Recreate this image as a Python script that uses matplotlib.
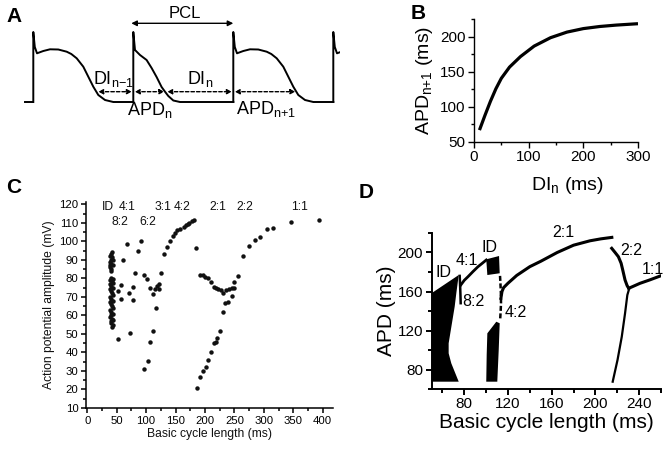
import numpy as np
import matplotlib
matplotlib.use('Agg')
import matplotlib.pyplot as plt
from matplotlib.ticker import MultipleLocator

plt.rcParams['font.family'] = ['Liberation Sans', 'DejaVu Sans']
plt.rcParams['mathtext.fontset'] = 'custom'
plt.rcParams['mathtext.rm'] = 'Liberation Sans'
plt.rcParams['mathtext.it'] = 'Liberation Sans:italic'
plt.rcParams['mathtext.bf'] = 'Liberation Sans:bold'

# ---------------- data ----------------
# Panel A: schematic action potentials (time from upstroke, voltage above rest)
ap_long_t = [0, 0, 1.5, 3.7, 10, 16.7, 25, 33.4, 38, 43.4, 50, 55, 60, 65, 71.7, 80, 100]
ap_long_v = [0, 70, 55, 48.7, 51, 52.7, 52.5, 50.3, 48, 43.7, 35.3, 25.3, 15.3, 7, 2, 0, 0]
ap_short_t = [0, 0, 1.7, 6.7, 13.3, 18.3, 23.3, 28.3, 31.7, 35, 40, 46.7, 100]
ap_short_v = [0, 70, 52, 47, 42, 34, 25, 15, 10.3, 6, 1.5, 0, 0]
beat_onsets = [33.3, 133.3, 233.3, 333.3]
beat_kinds = ['long', 'short', 'long', 'long']
trace_start = 25
apd_long = 63.5
apd_short = 32.5
arrow_level = 10.3
pcl_level = 78.7

# Panel B: restitution curve
restit_di = [10, 20, 30, 40, 50, 65, 85, 110, 140, 170, 200, 230, 260, 300]
restit_apd = [67, 88, 108, 126, 141, 157, 172, 187, 199, 207, 212, 215, 217, 219]

# Panel C: experimental amplitudes (BCL ms, amplitude mV)
id_col_x = [42, 40, 38, 42, 40, 38, 41, 43, 39, 41, 40, 44, 38,
            40, 43, 38, 42, 44, 39, 41, 43, 38, 40, 42, 44, 39, 41, 43,
            38, 40, 42, 44, 39, 41, 43, 40, 38, 42, 44, 40, 41, 43, 42]
id_col_y = [94, 93, 92, 91.5, 90, 89, 88, 87, 86, 85, 84, 90, 87,
            80, 79.5, 79, 78, 77.5, 77, 76, 75, 74, 73, 72, 71, 70, 69, 68,
            67, 66, 65, 64, 63, 62, 61, 60, 59, 58, 57.5, 57, 56, 55, 54]
amp_x = [66.9, 61.2, 91.2, 85.6, 81, 57.3, 51.6, 77.1, 71.4, 57.3, 77.1, 52.7, 72.6,
         96.3, 101.4, 106.5, 111.1, 115, 119, 121.3, 121.9, 125.2, 116.2, 112.2, 106.5,
         102.6, 96.9,
         130.3, 136, 140.5, 145.1, 149, 152.9, 158, 164.3, 167.9, 171, 173.4, 177.9, 181.9,
         184.7, 185.9,
         191.5, 196.1, 201.2, 205.6, 210.7, 215.3, 218.7, 220.9, 225.5, 230, 234.5, 239.1, 245.3,
         191.5, 197.2, 200, 204.5, 209.6, 215.3, 218.7, 222.6, 226.7, 230.6, 235.7, 240.8,
         245.3, 249.8, 249.8, 255.6,
         264, 274.8, 285, 294, 304.8, 315, 345.6, 394.3]
amp_y = [98.6, 89.9, 100, 95, 82.7, 76.4, 73.2, 75.5, 72.3, 68.9, 68.2, 47.3, 50.7,
         81.8, 79.7, 74.6, 71.4, 74.1, 76, 76.8, 74.4, 83, 64.2, 51.6, 45.8,
         35.6, 30.9,
         93.3, 97, 100.2, 102.7, 104.7, 106, 106.5, 107.9, 108.7, 109.3, 109.9, 111, 111.5,
         96.6, 21,
         26.9, 30, 32.3, 35.9, 40.1, 44.9, 45.8, 47.6, 51.6, 61.7, 66.5, 67.4, 70.6,
         81.8, 81.8, 80.9, 80, 77.9, 75.5, 75, 74.3, 73.7, 72, 73.7, 74.1,
         75, 75, 77.9, 81.3,
         92.3, 97.5, 100.7, 102.2, 106.5, 107.4, 110.4, 111.4]
c_labels = ['ID', '4:1', '3:1', '4:2', '2:1', '2:2', '1:1', '8:2', '6:2']
c_label_x = [35.7, 68, 129.2, 160.4, 222.6, 268, 361.4, 55.6, 103.7]
c_label_y = [118.4, 118.4, 118.4, 118.4, 118.4, 118.4, 118.4, 110.3, 110.3]

# Panel D: simulated bifurcation diagram (BCL ms, APD ms)
id1_x = [50, 50, 74.9, 72.7, 71.2, 68.7, 65.7, 65.7, 68.1, 71.8, 74.9]
id1_y = [67.5, 158.2, 176.9, 158.2, 144.4, 127.4, 106.9, 96.6, 86.4, 76.1, 67.5]
id2_top_x = [100.1, 111.8, 112.4, 101.1]
id2_top_y = [193, 196.4, 178.7, 176.9]
id2_low_x = [101.1, 109.3, 112.4, 111.5, 110.2, 100.1, 100.5]
id2_low_y = [117.1, 129, 127.4, 100, 67.5, 67.5, 95]
br82_x = [75.8, 76.2, 76.5, 76.7]
br82_y = [176, 166, 156, 148]
br41_x = [76.8, 80, 83.4, 88, 92.5, 96.5, 100.1]
br41_y = [166.7, 171.5, 175.2, 180.5, 185.4, 189, 192.3]
br42_x = [112.7, 113.1, 113.5, 113.6, 113.3, 112.8]
br42_y = [176, 168, 158, 148, 140, 130.8]
br21_x = [113.5, 114.5, 116, 120, 128, 140, 150, 165, 180, 195, 205, 215]
br21_y = [153, 160, 164, 168.5, 176.5, 185.5, 191, 200, 207.5, 212, 214, 215.5]
br22_x = [214.9, 218, 221, 223.5, 225, 227.1, 229, 230.5]
br22_y = [204.3, 200, 195.7, 189, 182, 171.8, 166, 163.3]
br11_x = [230.5, 240.8, 250, 260]
br11_y = [163.3, 168.4, 172, 176.2]
brlow_x = [231, 229.2, 227.1, 224.1, 220.2, 215.8]
brlow_y = [163.3, 156.4, 137.6, 113.6, 89.7, 67.5]
d_labels = ['ID', '4:1', 'ID', '8:2', '4:2', '2:1', '2:2', '1:1']
d_label_x = [61.1, 82.2, 103.5, 88.2, 127.5, 170.6, 233.2, 253]
d_label_y = [179.5, 191.5, 205.1, 149.5, 138.5, 220.5, 201.7, 182.9]

# ---------------- figure ----------------
W, H = 672, 449
fig = plt.figure(figsize=(W / 100, H / 100), dpi=100)


def px_axes(l, t, r, b):
    return fig.add_axes([l / W, 1 - b / H, (r - l) / W, (b - t) / H])


def style_axes(ax, lw, maj, mnr, size):
    ax.spines['top'].set_visible(False)
    ax.spines['right'].set_visible(False)
    ax.spines['left'].set_linewidth(lw)
    ax.spines['bottom'].set_linewidth(lw)
    ax.tick_params(which='major', direction='out', length=maj, width=lw, labelsize=size, pad=2)
    ax.tick_params(which='minor', direction='out', length=mnr, width=lw)


# ---- A ----
axA = px_axes(0, 0, 340, 140)
axA.set_xlim(0, 340)
axA.set_ylim(-38, 102)
axA.axis('off')
axA.plot([trace_start, beat_onsets[0]], [0, 0], color='k', lw=1.4)
for on, kind in zip(beat_onsets, beat_kinds):
    tt = ap_long_t if kind == 'long' else ap_short_t
    vv = ap_long_v if kind == 'long' else ap_short_v
    axA.plot([on + t for t in tt], vv, color='k', lw=1.4)

spans = [(beat_onsets[0] + apd_long, beat_onsets[1]),
         (beat_onsets[1], beat_onsets[1] + apd_short),
         (beat_onsets[1] + apd_short, beat_onsets[2]),
         (beat_onsets[2], beat_onsets[2] + apd_long)]
for x0, x1 in spans:
    axA.annotate('', xy=(x1, arrow_level), xytext=(x0, arrow_level),
                 arrowprops=dict(arrowstyle='<|-|>', ls=(0, (2.5, 1.5)), lw=1, color='k',
                                 mutation_scale=7, shrinkA=1, shrinkB=1))
axA.annotate('', xy=(beat_onsets[2], pcl_level), xytext=(beat_onsets[1] - 2, pcl_level),
             arrowprops=dict(arrowstyle='<|-|>', lw=1, color='k', mutation_scale=8,
                             shrinkA=0, shrinkB=0))
axA.text(185, 89, 'PCL', ha='center', va='center', fontsize=12)
axA.text(113, 23, r'DI$_{\rm n{-}1}$', ha='center', va='center', fontsize=13)
axA.text(150, -8, r'APD$_{\rm n}$', ha='center', va='center', fontsize=13)
axA.text(200, 23, r'DI$_{\rm n}$', ha='center', va='center', fontsize=13)
axA.text(266, -7, r'APD$_{\rm n{+}1}$', ha='center', va='center', fontsize=13)

# ---- B ----
axB = px_axes(474, 19.5, 638, 142)
axB.plot(restit_di, restit_apd, color='k', lw=2.3, solid_capstyle='butt')
axB.set_xlim(0, 300)
axB.set_ylim(50, 225)
axB.xaxis.set_major_locator(MultipleLocator(100))
axB.xaxis.set_minor_locator(MultipleLocator(50))
axB.yaxis.set_major_locator(MultipleLocator(50))
axB.yaxis.set_minor_locator(MultipleLocator(25))
style_axes(axB, 1.0, 4, 2.5, 11)
axB.set_ylabel(r'APD$_{\rm n{+}1}$ (ms)', fontsize=14, labelpad=4)
axB.set_xlabel(r'DI$_{\rm n}$ (ms)', fontsize=14)
axB.xaxis.set_label_coords(0.57, -0.27)

# ---- C ----
axC = px_axes(86.1, 201.7, 332.7, 408)
axC.plot(id_col_x, id_col_y, 'o', color='#111111', ms=3.2, mew=0)
axC.plot(amp_x, amp_y, 'o', color='#111111', ms=3.2, mew=0)
axC.set_xlim(-2, 417)
axC.set_ylim(10, 121.4)
axC.xaxis.set_major_locator(MultipleLocator(50))
axC.xaxis.set_minor_locator(MultipleLocator(25))
axC.yaxis.set_major_locator(MultipleLocator(10))
axC.yaxis.set_minor_locator(MultipleLocator(5))
axC.set_yticks(np.arange(10, 121, 10))
style_axes(axC, 1.1, 3.5, 2, 8.2)
axC.set_xlabel('Basic cycle length (ms)', fontsize=8.7, labelpad=2, color='#111111')
axC.set_ylabel('Action potential amplitude (mV)', fontsize=8.7, labelpad=3, color='#111111')
for s, x, y in zip(c_labels, c_label_x, c_label_y):
    axC.text(x, y, s, ha='center', va='center', fontsize=8.7, color='#111111')

# ---- D ----
axD = px_axes(431.5, 233, 661, 389)
axD.fill(id1_x, id1_y, color='k', lw=0)
axD.fill(id2_top_x, id2_top_y, color='k', lw=0)
axD.fill(id2_low_x, id2_low_y, color='k', lw=0)
axD.plot(br82_x, br82_y, color='k', lw=1.8)
axD.plot(br41_x, br41_y, color='k', lw=2.0)
axD.plot(br42_x, br42_y, color='k', lw=1.8, ls=(0, (2, 1)))
axD.plot(br21_x, br21_y, color='k', lw=2.2)
axD.plot(br22_x, br22_y, color='k', lw=2.2)
axD.plot(br11_x, br11_y, color='k', lw=2.2)
axD.plot(brlow_x, brlow_y, color='k', lw=1.6)
axD.set_xlim(50, 260)
axD.set_ylim(60, 220)
axD.xaxis.set_major_locator(MultipleLocator(40))
axD.xaxis.set_minor_locator(MultipleLocator(20))
axD.set_xticks([80, 120, 160, 200, 240])
axD.set_yticks([80, 120, 160, 200])
axD.yaxis.set_minor_locator(MultipleLocator(20))
style_axes(axD, 1.4, 4, 3, 11)
axD.set_xlabel('Basic cycle length (ms)', fontsize=15, labelpad=1)
axD.set_ylabel('APD (ms)', fontsize=15, labelpad=1)
for s, x, y in zip(d_labels, d_label_x, d_label_y):
    axD.text(x, y, s, ha='center', va='center', fontsize=11.5, clip_on=False)

# panel letters
for s, x, y in [('A', 14.5, 16), ('B', 418, 13.5), ('C', 13.7, 187.5), ('D', 365.7, 192.5)]:
    fig.text(x / W, 1 - y / H, s, ha='center', va='center', fontsize=15, fontweight='bold')

fig.savefig('out.png', dpi=100)
